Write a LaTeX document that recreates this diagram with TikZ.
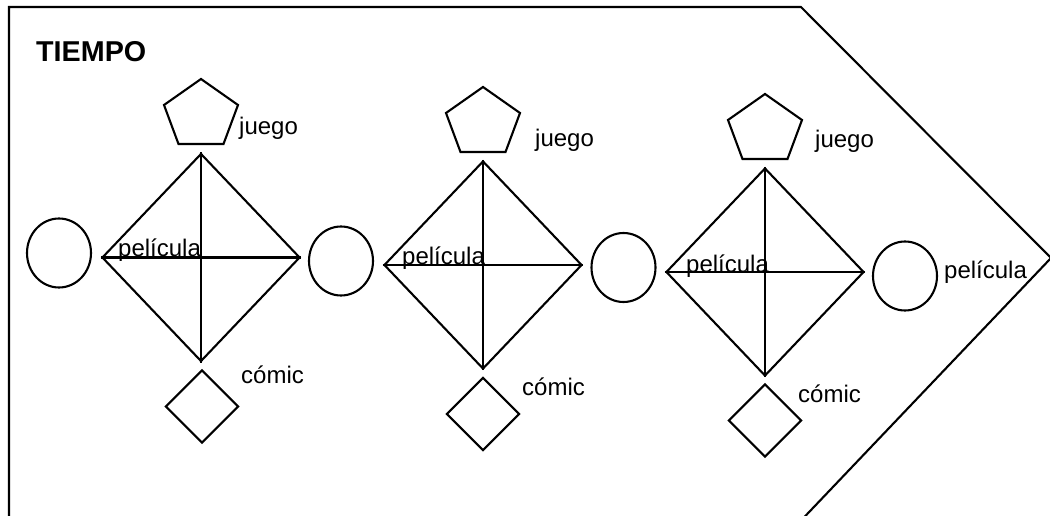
\documentclass[tikz,border=0pt]{standalone}
\usepackage{fontspec}
\setmainfont{Liberation Sans}
\usetikzlibrary{shapes.geometric}
\tikzset{
  shp/.style={draw=black, line width=2.1pt, line join=miter},
  bigdia/.style={shp, diamond, inner sep=0pt, minimum width=198pt, minimum height=208pt},
  smalldia/.style={shp, diamond, inner sep=0pt, minimum width=73pt, minimum height=73pt},
  ring/.style={shp, ellipse, inner sep=0pt, minimum width=64pt, minimum height=69pt},
  lbl/.style={inner sep=0pt, anchor=base west, font=\fontsize{24}{28}\selectfont},
  ttl/.style={inner sep=0pt, anchor=base west, font=\fontsize{28.7}{34}\selectfont\bfseries},
  penta/.pic={\draw[shp] (0,0) -- (37,26) -- (22.5,65) -- (-22.5,65) -- (-37,26) -- cycle;}
}
\begin{document}
\begin{tikzpicture}[x=1pt,y=-1pt]
\useasboundingbox (0,0) rectangle (1050,516);
\clip (0,0) rectangle (1050,516);
% outer arrow-shaped frame
\coordinate (fbl) at (9,530);
\coordinate (ftl) at (9,7);
\coordinate (ftr) at (801,7);
\coordinate (ftip) at (1051,258);
\coordinate (fbr) at (792,530);
\draw[shp] (fbl) -- (ftl) -- (ftr) -- (ftip) -- (fbr);
\node[ttl] (title) at (36,62) {TIEMPO};
% group 1
\pic (p1) at (201,79) {penta};
\node[bigdia] (d1) at (201,257.5) {};
\draw[shp] (d1.north) -- (d1.south);
\draw[shp] (d1.west) -- (d1.east);
\node[smalldia] (s1) at (202,406.5) {};
\node[lbl] (j1) at (239,135) {juego};
\node[lbl] (f1) at (118,256) {película};
\node[lbl] (k1) at (241,383) {cómic};
% group 2
\pic (p2) at (483,87) {penta};
\node[bigdia] (d2) at (483,265) {};
\draw[shp] (d2.north) -- (d2.south);
\draw[shp] (d2.west) -- (d2.east);
\node[smalldia] (s2) at (483,414) {};
\node[lbl] (j2) at (535,147) {juego};
\node[lbl] (f2) at (402,264) {película};
\node[lbl] (k2) at (522,395) {cómic};
% group 3
\pic (p3) at (765,94) {penta};
\node[bigdia] (d3) at (765,272) {};
\draw[shp] (d3.north) -- (d3.south);
\draw[shp] (d3.west) -- (d3.east);
\node[smalldia] (s3) at (765,420.5) {};
\node[lbl] (j3) at (815,148) {juego};
\node[lbl] (f3) at (686,272) {película};
\node[lbl] (k3) at (798,402) {cómic};
% circles
\node[ring] (c1) at (59,253) {};
\node[ring] (c2) at (341,261) {};
\node[ring] (c3) at (623.5,267.5) {};
\node[ring] (c4) at (905,276) {};
\node[lbl] (f4) at (944,278) {película};
\end{tikzpicture}
\end{document}
